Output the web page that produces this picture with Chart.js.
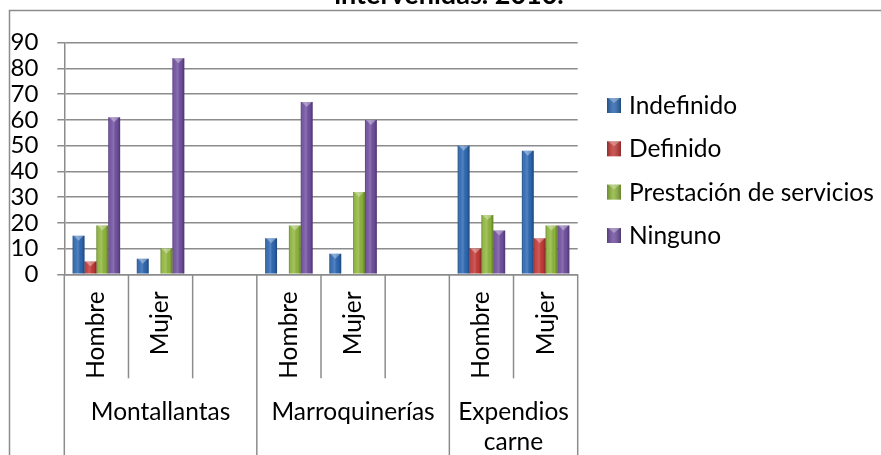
<!DOCTYPE html>
<html>
<head>
<meta charset="utf-8">
<script src="https://cdn.jsdelivr.net/npm/chart.js@4.4.1/dist/chart.umd.min.js"></script>
<style>
  html, body { margin: 0; padding: 0; background: #ffffff; }
  #wrap { width: 881px; height: 455px; position: relative; }
</style>
</head>
<body>
<div id="wrap"><canvas id="c" width="881" height="455"></canvas></div>
<script>
// ---- data ----
const categories = ["Hombre", "Mujer", "", "Hombre", "Mujer", "", "Hombre", "Mujer"];
const groupLabels = [["Montallantas"], ["Marroquinerías"], ["Expendios", "carne"]];
const groupSizes = [3, 3, 2];
const seriesNames = ["Indefinido", "Definido", "Prestación de servicios", "Ninguno"];
const indefinido = [15, 6, null, 14, 8, null, 50, 48];
const definido = [5, 0, null, 0, 0, null, 10, 14];
const prestacion = [19, 10, null, 19, 32, null, 23, 19];
const ninguno = [61, 84, null, 67, 60, null, 17, 19];
const yMin = 0, yMax = 90, yStep = 10;
const titleText = "intervenidas. 2010.";

const colors = ["#2d68b2", "#c33a37", "#8fb63d", "#7050a0"];
const FONT = "Lato, 'Open Sans', sans-serif";
const GRID = "#8c8c8c";
const FS = 24.5;

const bevelPlugin = {
  id: "bevel",
  afterDatasetsDraw(chart) {
    const ctx = chart.ctx;
    chart.data.datasets.forEach((ds, di) => {
      const meta = chart.getDatasetMeta(di);
      meta.data.forEach((el) => {
        const p = el.getProps(["x", "y", "base", "width"], true);
        if (p.y == null || isNaN(p.y)) return;
        const h = p.base - p.y;
        if (h < 1) return;
        const l = p.x - p.width / 2, r = p.x + p.width / 2;
        const g = ctx.createLinearGradient(l, 0, r, 0);
        g.addColorStop(0, "rgba(0,0,0,0.28)");
        g.addColorStop(0.2, "rgba(255,255,255,0.05)");
        g.addColorStop(0.45, "rgba(255,255,255,0.18)");
        g.addColorStop(0.75, "rgba(0,0,0,0.02)");
        g.addColorStop(1, "rgba(0,0,0,0.32)");
        ctx.save();
        ctx.fillStyle = g;
        ctx.fillRect(l, p.y, p.width, h);
        const capH = Math.min(5, h);
        ctx.beginPath();
        ctx.moveTo(l + 1, p.y);
        ctx.lineTo(r - 1, p.y);
        ctx.lineTo(p.x, p.y + capH);
        ctx.closePath();
        ctx.fillStyle = "rgba(255,255,255,0.35)";
        ctx.fill();
        ctx.restore();
      });
    });
  }
};

const framePlugin = {
  id: "frame",
  beforeDraw(chart) {
    const ctx = chart.ctx;
    ctx.save();
    ctx.fillStyle = "#ffffff";
    ctx.fillRect(0, 0, chart.width, chart.height);
    ctx.strokeStyle = GRID;
    ctx.lineWidth = 1.5;
    ctx.beginPath();
    ctx.moveTo(9.5, chart.height + 5);
    ctx.lineTo(9.5, 10.5);
    ctx.lineTo(chart.width + 5, 10.5);
    ctx.stroke();
    // title (clipped at top like the reference)
    ctx.fillStyle = "#000";
    ctx.font = "bold 27px " + FONT;
    ctx.textAlign = "center";
    ctx.textBaseline = "alphabetic";
    ctx.fillText(titleText, 449, 4);
    ctx.restore();
  },
  afterDraw(chart) {
    const ctx = chart.ctx;
    const xs = chart.scales.x;
    const n = categories.length;
    const half = (xs.getPixelForValue(1) - xs.getPixelForValue(0)) / 2;
    const top = chart.chartArea.bottom;
    const innerBottom = top + 104;
    const groupStarts = [];
    let acc = 0;
    groupSizes.forEach((s) => { groupStarts.push(acc); acc += s; });
    ctx.save();
    ctx.strokeStyle = GRID;
    ctx.lineWidth = 1.5;
    for (let i = 0; i <= n; i++) {
      const px = i < n ? xs.getPixelForValue(i) - half : xs.getPixelForValue(n - 1) + half;
      const isGroupEdge = i === n || groupStarts.includes(i);
      ctx.beginPath();
      ctx.moveTo(px, top);
      ctx.lineTo(px, isGroupEdge ? chart.height + 5 : innerBottom);
      ctx.stroke();
    }
    // group labels
    ctx.fillStyle = "#000";
    ctx.font = FS + "px " + FONT;
    ctx.textAlign = "center";
    ctx.textBaseline = "middle";
    groupLabels.forEach((lines, gi) => {
      const s = groupStarts[gi], e = s + groupSizes[gi] - 1;
      const cx = (xs.getPixelForValue(s) + xs.getPixelForValue(e)) / 2;
      lines.forEach((t, li) => ctx.fillText(t, cx, top + 137.5 + li * 30));
    });
    // legend
    const rowY = [105, 148.3, 191.6, 235];
    chart.data.datasets.forEach((ds, di) => {
      const y = rowY[di];
      ctx.fillStyle = ds.backgroundColor;
      ctx.fillRect(607, y - 7, 14, 15);
      const g = ctx.createLinearGradient(607, 0, 621, 0);
      g.addColorStop(0, "rgba(0,0,0,0.25)");
      g.addColorStop(0.45, "rgba(255,255,255,0.15)");
      g.addColorStop(1, "rgba(0,0,0,0.28)");
      ctx.fillStyle = g;
      ctx.fillRect(607, y - 7, 14, 15);
      ctx.fillStyle = "rgba(255,255,255,0.3)";
      ctx.beginPath();
      ctx.moveTo(608, y - 7); ctx.lineTo(620, y - 7); ctx.lineTo(614, y - 2); ctx.closePath();
      ctx.fill();
      ctx.fillStyle = "#000";
      ctx.textAlign = "left";
      ctx.fillText(ds.label, 629, y + 1);
    });
    ctx.restore();
  }
};

const seriesData = [indefinido, definido, prestacion, ninguno];
new Chart(document.getElementById("c"), {
  type: "bar",
  data: {
    labels: categories,
    datasets: seriesNames.map((name, i) => ({
      label: name,
      data: seriesData[i],
      backgroundColor: colors[i],
      borderWidth: 0,
      categoryPercentage: 0.74,
      barPercentage: 1.0
    }))
  },
  plugins: [framePlugin, bevelPlugin],
  options: {
    responsive: false,
    animation: false,
    devicePixelRatio: 1,
    layout: { padding: { left: 0, top: 42.7, right: 303.3, bottom: 0 } },
    plugins: { legend: { display: false }, tooltip: { enabled: false } },
    scales: {
      x: {
        grid: { display: false, drawTicks: false },
        border: { display: true, color: GRID, width: 1.5 },
        ticks: {
          autoSkip: false, minRotation: 90, maxRotation: 90, padding: 17,
          color: "#000", font: { family: FONT, size: FS }
        },
        afterFit(s) { s.height = 180.7; }
      },
      y: {
        min: yMin, max: yMax,
        ticks: { stepSize: yStep, autoSkip: false, padding: 19, color: "#000", font: { family: FONT, size: 24 } },
        grid: { color: GRID, lineWidth: 1.5, tickLength: 7 },
        border: { display: true, color: GRID, width: 1.5 },
        afterFit(s) { s.width = 64.3; }
      }
    }
  }
});
</script>
</body>
</html>
